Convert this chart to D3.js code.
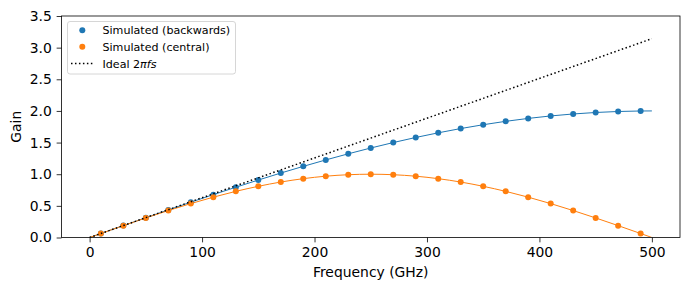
<!DOCTYPE html>
<html><head><meta charset="utf-8">
<script src="https://cdn.jsdelivr.net/npm/d3@7"></script>
<style>body{margin:0;background:#fff}svg{display:block}text{font-family:"DejaVu Sans",sans-serif}</style>
</head><body><svg id="c" width="690" height="290"></svg>
<script>
const markerFreq = [10,30,50,70,90,110,130,150,170,190,210,230,250,270,290,310,330,350,370,390,410,430,450,470,490];
const backwardsGain = [0.0628,0.1883,0.3129,0.4363,0.5579,0.6773,0.7943,0.9080,1.0182,1.1243,1.2258,1.3226,1.4142,1.5002,1.5804,1.6542,1.7214,1.7820,1.8357,1.8818,1.9206,1.9518,1.9754,1.9912,1.9990];
const centralGain = [0.0628,0.1874,0.3090,0.4258,0.5358,0.6374,0.7290,0.8090,0.8763,0.9298,0.9686,0.9921,1.0000,0.9921,0.9686,0.9298,0.8763,0.8090,0.7290,0.6374,0.5358,0.4258,0.3090,0.1874,0.0628];
const lineStart = {f:0, backwards:0, central:0};
const lineEnd = {f:500, backwards:2.0, central:0};
const idealFreq = [0, 500];
const idealGain = [0, 3.1416];
const xTicks = [0,100,200,300,400,500];
const yTicks = [0,0.5,1.0,1.5,2.0,2.5,3.0,3.5];
const legendLabels = ["Simulated (backwards)","Simulated (central)"];

const svg = d3.select("#c");
const L=61.5, R=680, T=16, B=237.5;
const x = d3.scaleLinear().domain([-25,525]).range([L,R]);
const y = d3.scaleLinear().domain([0,3.5]).range([B,T]);
const blue="#1f77b4", orange="#ff7f0e";

const clip = svg.append("clipPath").attr("id","clp").append("rect").attr("x",L).attr("y",T).attr("width",R-L).attr("height",B-T);
const g = svg.append("g").attr("clip-path","url(#clp)");

const line = d3.line().x(d=>x(d[0])).y(d=>y(d[1])).curve(d3.curveMonotoneX);
const bPts = [[lineStart.f,lineStart.backwards], ...markerFreq.map((f,i)=>[f,backwardsGain[i]]), [lineEnd.f,lineEnd.backwards]];
const cPts = [[lineStart.f,lineStart.central], ...markerFreq.map((f,i)=>[f,centralGain[i]]), [lineEnd.f,lineEnd.central]];

g.append("path").attr("d",line(bPts)).attr("fill","none").attr("stroke",blue).attr("stroke-width",1);
g.append("path").attr("d",line(cPts)).attr("fill","none").attr("stroke",orange).attr("stroke-width",1);

g.selectAll("circle.b").data(markerFreq).join("circle").attr("class","b")
  .attr("cx",d=>x(d)).attr("cy",(d,i)=>y(backwardsGain[i])).attr("r",3).attr("fill",blue);
g.selectAll("circle.c").data(markerFreq).join("circle").attr("class","c")
  .attr("cx",d=>x(d)).attr("cy",(d,i)=>y(centralGain[i])).attr("r",3).attr("fill",orange);

g.append("path").attr("d",d3.line().x(d=>x(d[0])).y(d=>y(d[1]))(idealFreq.map((f,i)=>[f,idealGain[i]])))
  .attr("fill","none").attr("stroke","#000").attr("stroke-width",1.5).attr("stroke-dasharray","1.5,2.475");

// axes
const xa = svg.append("g").attr("transform",`translate(0,${B})`)
  .call(d3.axisBottom(x).tickValues(xTicks).tickFormat(d3.format("d")).tickSize(4.86).tickPadding(4.86));
const ya = svg.append("g").attr("transform",`translate(${L},0)`)
  .call(d3.axisLeft(y).tickValues(yTicks).tickFormat(d3.format(".1f")).tickSize(4.86).tickPadding(4.86));
[xa,ya].forEach(a=>{a.select(".domain").remove();a.selectAll("line").attr("stroke","#000").attr("stroke-width",0.8);
  a.selectAll("text").attr("font-size","13.9px").attr("fill","#000").style("font-family","DejaVu Sans");});
svg.append("rect").attr("x",L).attr("y",T).attr("width",R-L).attr("height",B-T).attr("fill","none").attr("stroke","#000").attr("stroke-width",0.8);

svg.append("text").attr("x",(L+R)/2).attr("y",277).attr("text-anchor","middle").attr("font-size","13.9px").text("Frequency (GHz)");
svg.append("text").attr("transform",`translate(21,${(T+B)/2}) rotate(-90)`).attr("text-anchor","middle").attr("font-size","13.9px").text("Gain");

// legend
const lg = svg.append("g");
lg.append("rect").attr("x",67.5).attr("y",21.5).attr("width",168).attr("height",52.5).attr("rx",2.5)
  .attr("fill","#fff").attr("fill-opacity",0.8).attr("stroke","#cccccc").attr("stroke-width",0.8);
const ly=[30.3,46.8,63.6];
lg.append("circle").attr("cx",82.3).attr("cy",ly[0]).attr("r",3).attr("fill",blue);
lg.append("circle").attr("cx",82.3).attr("cy",ly[1]).attr("r",3).attr("fill",orange);
lg.append("line").attr("x1",71).attr("x2",94).attr("y1",ly[2]).attr("y2",ly[2]).attr("stroke","#000").attr("stroke-width",1.5).attr("stroke-dasharray","1.5,2.475");
legendLabels.forEach((t,i)=>lg.append("text").attr("x",102.5).attr("y",ly[i]+4).attr("font-size","11.1px").text(t));
const it = lg.append("text").attr("x",102.5).attr("y",ly[2]+4).attr("font-size","11.1px");
it.append("tspan").text("Ideal 2");
it.append("tspan").attr("font-style","italic").text("πfs");
</script></body></html>
